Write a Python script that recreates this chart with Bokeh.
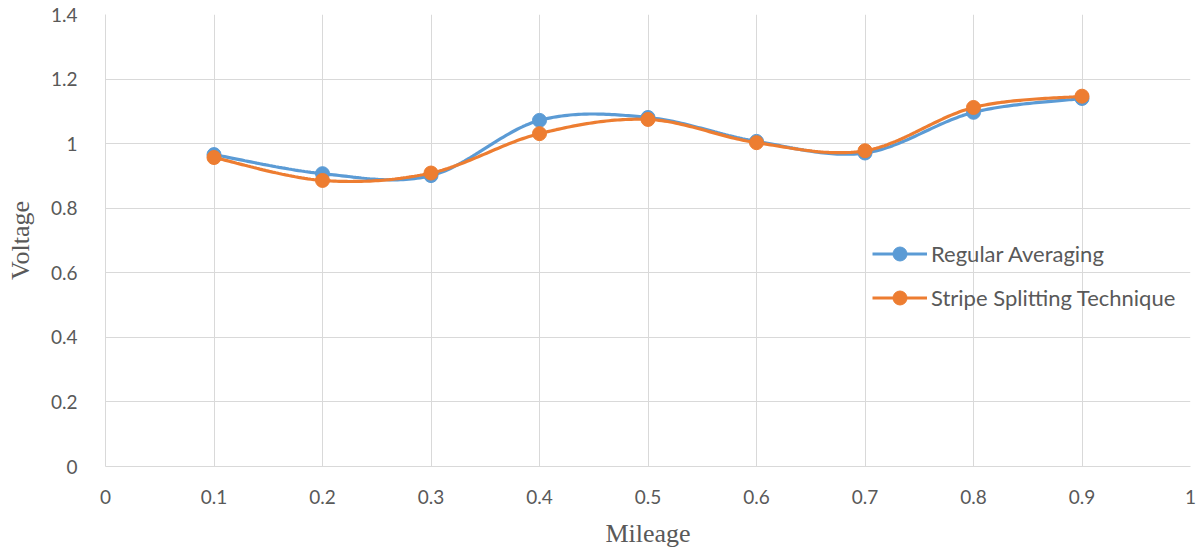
import numpy as np
from bokeh.plotting import figure
from bokeh.models import Range1d, FixedTicker, Legend, LegendItem
from bokeh.embed import file_html
from bokeh.resources import INLINE

mileage = [0.1, 0.2, 0.3, 0.4, 0.5, 0.6, 0.7, 0.8, 0.9]
regular_averaging = [0.966, 0.907, 0.901, 1.072, 1.081, 1.007, 0.971, 1.097, 1.140]
stripe_splitting = [0.957, 0.886, 0.909, 1.031, 1.075, 1.003, 0.978, 1.112, 1.147]

x_ticks = [0, 0.1, 0.2, 0.3, 0.4, 0.5, 0.6, 0.7, 0.8, 0.9, 1]
x_labels = ["0", "0.1", "0.2", "0.3", "0.4", "0.5", "0.6", "0.7", "0.8", "0.9", "1"]
y_ticks = [0, 0.2, 0.4, 0.6, 0.8, 1, 1.2, 1.4]
y_labels = ["0", "0.2", "0.4", "0.6", "0.8", "1", "1.2", "1.4"]

BLUE = "#5B9BD5"
ORANGE = "#ED7D31"
TXT = "#595959"
GRID = "#D9D9D9"


def smooth(xs, ys, n=40):
    xs = np.asarray(xs, float)
    ys = np.asarray(ys, float)
    px = np.concatenate([[xs[0]], xs, [xs[-1]]])
    py = np.concatenate([[ys[0]], ys, [ys[-1]]])
    ox, oy = [], []
    t = np.linspace(0, 1, n)
    for i in range(1, len(px) - 2):
        p0x, p0y = px[i], py[i]
        p3x, p3y = px[i + 1], py[i + 1]
        c1x = p0x + (px[i + 1] - px[i - 1]) / 6
        c1y = p0y + (py[i + 1] - py[i - 1]) / 6
        c2x = p3x - (px[i + 2] - px[i]) / 6
        c2y = p3y - (py[i + 2] - py[i]) / 6
        bx = (1 - t) ** 3 * p0x + 3 * (1 - t) ** 2 * t * c1x + 3 * (1 - t) * t ** 2 * c2x + t ** 3 * p3x
        by = (1 - t) ** 3 * p0y + 3 * (1 - t) ** 2 * t * c1y + 3 * (1 - t) * t ** 2 * c2y + t ** 3 * p3y
        ox.extend(bx.tolist())
        oy.extend(by.tolist())
    return ox, oy


p = figure(width=1201, height=552, output_backend="svg", toolbar_location=None,
           x_range=Range1d(0, 1), y_range=Range1d(0, 1.4),
           min_border_left=105, min_border_right=11, min_border_top=14, min_border_bottom=86)
p.outline_line_color = None
p.background_fill_color = "white"

p.xaxis.ticker = FixedTicker(ticks=x_ticks)
p.yaxis.ticker = FixedTicker(ticks=y_ticks)
p.xaxis.major_label_overrides = dict(zip(x_ticks, x_labels))
p.yaxis.major_label_overrides = dict(zip(y_ticks, y_labels))

for ax in (p.xaxis, p.yaxis):
    ax.axis_line_color = GRID
    ax.major_tick_line_color = None
    ax.minor_tick_line_color = None
    ax.major_label_text_color = TXT
    ax.major_label_text_font = "Lato"
    ax.major_label_text_font_size = "19px"
    ax.axis_label_text_color = TXT
    ax.axis_label_text_font = "Liberation Serif"
    ax.axis_label_text_font_size = "26px"
    ax.axis_label_text_font_style = "normal"

p.xaxis.axis_label = "Mileage"
p.yaxis.axis_label = "Voltage"
p.xaxis.major_label_standoff = 17
p.yaxis.major_label_standoff = 22
p.xaxis.axis_label_standoff = 12
p.yaxis.axis_label_standoff = 13

p.xgrid.grid_line_color = GRID
p.ygrid.grid_line_color = GRID
p.xgrid.grid_line_width = 1
p.ygrid.grid_line_width = 1

sx, sy = smooth(mileage, regular_averaging)
l1 = p.line(sx, sy, line_color=BLUE, line_width=3.2)
m1 = p.scatter(mileage, regular_averaging, size=14, fill_color=BLUE, line_color=BLUE)

sx2, sy2 = smooth(mileage, stripe_splitting)
l2 = p.line(sx2, sy2, line_color=ORANGE, line_width=3.2)
m2 = p.scatter(mileage, stripe_splitting, size=14, fill_color=ORANGE, line_color=ORANGE)

legend = Legend(items=[LegendItem(label="Regular Averaging", renderers=[l1, m1]),
                       LegendItem(label="Stripe Splitting Technique", renderers=[l2, m2])],
                location=(767, 151))
legend.background_fill_alpha = 0
legend.border_line_alpha = 0
legend.padding = 0
legend.margin = 0
legend.spacing = 9
legend.glyph_width = 55
legend.glyph_height = 35
legend.label_height = 35
legend.label_standoff = 4
legend.label_text_font = "Lato"
legend.label_text_font_size = "22px"
legend.label_text_color = TXT
p.add_layout(legend, "center")

open("out.html", "w").write(file_html(p, INLINE))
